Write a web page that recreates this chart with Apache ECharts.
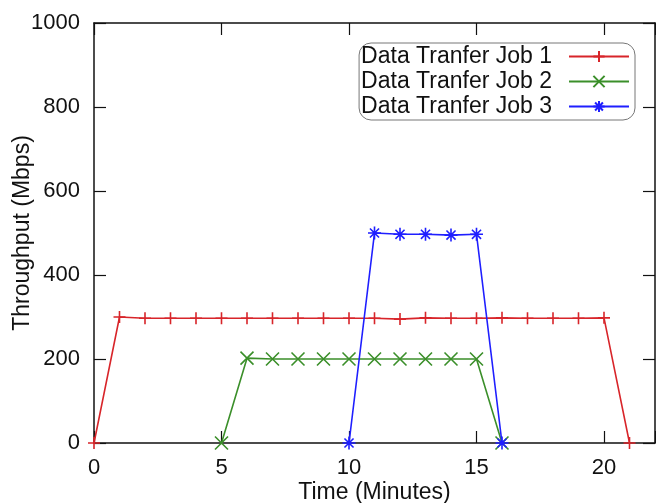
<!DOCTYPE html>
<html>
<head>
<meta charset="utf-8">
<script src="https://cdn.jsdelivr.net/npm/echarts@6/dist/echarts.min.js"></script>
<style>
  html, body { margin: 0; padding: 0; background: #fff; }
  #chart { width: 656px; height: 503px; }
</style>
</head>
<body>
<div id="chart"></div>
<script>
// data
var job1 = [[0,0],[1,300],[2,297],[3,297],[4,297],[5,297],[6,297],[7,297],[8,297],[9,297],[10,297],
            [11,297],[12,295],[13,298],[14,297],[15,297],[16,298],[17,297],[18,297],[19,297],[20,298],[21,0]];
var job2 = [[5,0],[6,202],[7,200],[8,200],[9,200],[10,200],[11,200],[12,200],[13,200],[14,200],[15,200],[16,0]];
var job3 = [[10,0],[11,500],[12,497],[13,497],[14,495],[15,497],[16,0]];
var names = ['Data Tranfer Job 1', 'Data Tranfer Job 2', 'Data Tranfer Job 3'];
var xTicks = [0, 5, 10, 15, 20];
var yTicks = [0, 200, 400, 600, 800, 1000];

var FONT = 'Liberation Sans, Arial, sans-serif';
var RED = '#d8252a', GREEN = '#3b8f2a', BLUE = '#1f1fff';

// marker shapes (stroked, no fill)
var PLUS = 'path://M5,0L5,10M0,5L10,5';
var CROSS = 'path://M0,0L10,10M10,0L0,10';
var STAR = 'path://M5,0L5,10M0,5L10,5M1.5,1.5L8.5,8.5M8.5,1.5L1.5,8.5';

var chart = echarts.init(document.getElementById('chart'));

function mkSeries(name, data, color, symbol, size) {
  return {
    name: name,
    type: 'line',
    data: data,
    symbol: symbol,
    symbolSize: size,
    showAllSymbol: true,
    color: color,
    lineStyle: { color: color, width: 1.6 },
    itemStyle: { color: color, borderColor: color, borderWidth: 1.6 },
    emphasis: { disabled: true },
    animation: false,
    z: 3
  };
}

function axisCommon() {
  return {
    axisLine: { show: true, onZero: false, lineStyle: { color: '#111', width: 1.5 } },
    axisTick: { show: true, inside: true, length: 12, lineStyle: { color: '#111', width: 1.2 } },
    splitLine: { show: false }
  };
}

var option = {
  backgroundColor: '#fff',
  textStyle: { fontFamily: FONT },
  grid: { left: 94, right: 1, top: 23, bottom: 60, containLabel: false, outerBoundsMode: 'none' },
  legend: {
    data: names,
    right: 21,
    top: 43,
    orient: 'vertical',
    align: 'right',
    itemWidth: 60,
    itemHeight: 14,
    itemGap: 2,
    padding: [2, 5, 2, 2],
    borderColor: '#777',
    borderWidth: 1,
    borderRadius: 12,
    textStyle: { fontFamily: FONT, fontSize: 23, color: '#111', lineHeight: 23, padding: [0, 12, 0, 0] }
  },
  xAxis: [
    Object.assign({
      type: 'value', min: 0, max: 22, interval: 5,
      name: 'Time (Minutes)', nameLocation: 'middle', nameGap: 38, nameMoveOverlap: false,
      nameTextStyle: { fontSize: 23, color: '#111', fontFamily: FONT },
      axisLabel: {
        fontSize: 22, color: '#111', margin: 14, fontFamily: FONT,
        formatter: function (v) { return xTicks.indexOf(v) >= 0 ? v : ''; }
      }
    }, axisCommon()),
    Object.assign({
      type: 'value', min: 0, max: 22, interval: 5, position: 'top',
      axisLabel: { show: false }
    }, axisCommon())
  ],
  yAxis: [
    Object.assign({
      type: 'value', min: 0, max: 1000, interval: 200,
      name: 'Throughput (Mbps)', nameLocation: 'middle', nameGap: 60, nameMoveOverlap: false,
      nameTextStyle: { fontSize: 23, color: '#111', fontFamily: FONT },
      axisLabel: {
        fontSize: 22, color: '#111', margin: 14, fontFamily: FONT,
        formatter: function (v) { return yTicks.indexOf(v) >= 0 ? v : ''; }
      }
    }, axisCommon()),
    Object.assign({
      type: 'value', min: 0, max: 1000, interval: 200, position: 'right',
      axisLabel: { show: false }
    }, axisCommon())
  ],
  series: [
    mkSeries(names[0], job1, RED, PLUS, 12),
    mkSeries(names[1], job2, GREEN, CROSS, 13),
    mkSeries(names[2], job3, BLUE, STAR, 13)
  ]
};

chart.setOption(option);
</script>
</body>
</html>
